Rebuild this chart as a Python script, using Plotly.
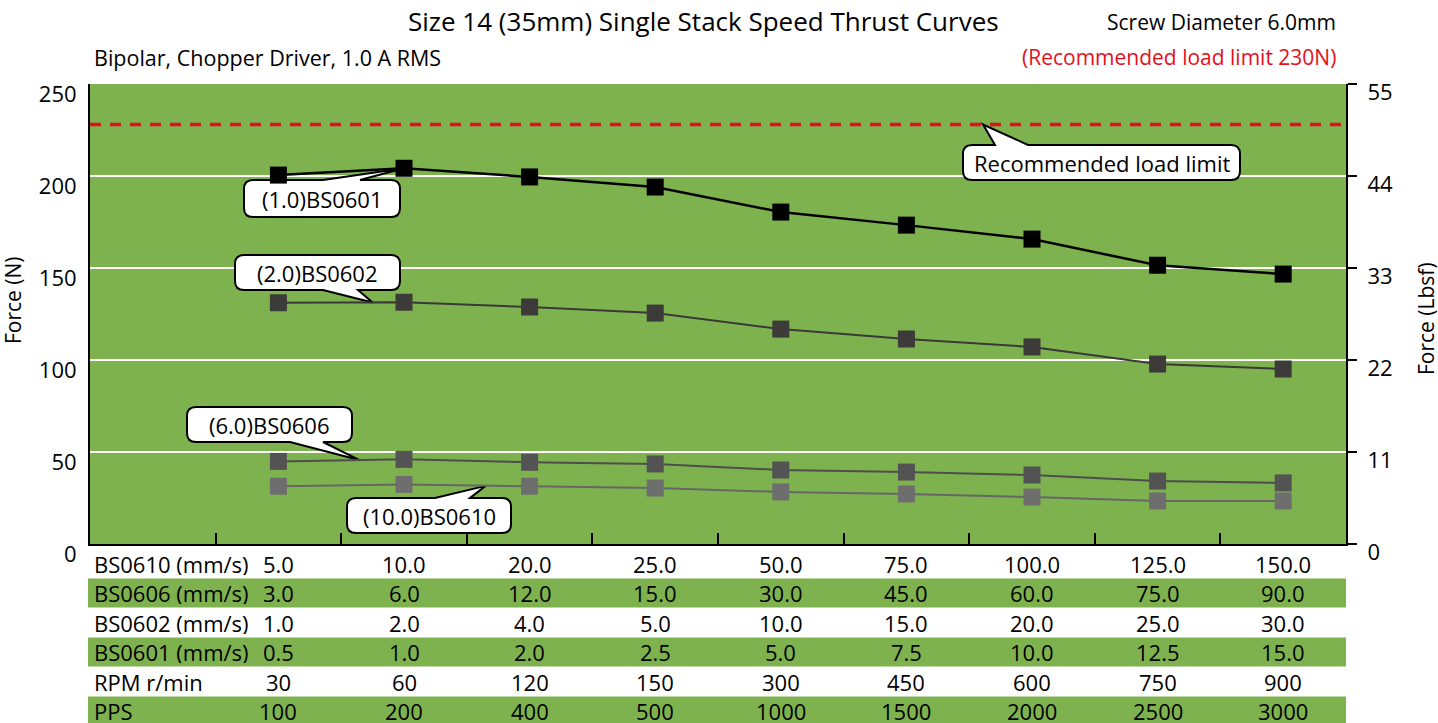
import plotly.graph_objects as go

# ---------------- data ----------------
row_labels = ["BS0610 (mm/s)", "BS0606 (mm/s)", "BS0602 (mm/s)", "BS0601 (mm/s)", "RPM r/min", "PPS"]
bs0610_speed = ["5.0", "10.0", "20.0", "25.0", "50.0", "75.0", "100.0", "125.0", "150.0"]
bs0606_speed = ["3.0", "6.0", "12.0", "15.0", "30.0", "45.0", "60.0", "75.0", "90.0"]
bs0602_speed = ["1.0", "2.0", "4.0", "5.0", "10.0", "15.0", "20.0", "25.0", "30.0"]
bs0601_speed = ["0.5", "1.0", "2.0", "2.5", "5.0", "7.5", "10.0", "12.5", "15.0"]
rpm = ["30", "60", "120", "150", "300", "450", "600", "750", "900"]
pps = ["100", "200", "400", "500", "1000", "1500", "2000", "2500", "3000"]

force_bs0601 = [200.5, 204.2, 199.5, 194.0, 180.4, 173.3, 165.7, 151.5, 146.7]
force_bs0602 = [131.1, 131.4, 128.8, 125.5, 116.8, 111.4, 107.1, 97.8, 95.1]
force_bs0606 = [44.9, 46.0, 44.4, 43.5, 40.2, 39.1, 37.5, 34.2, 33.2]
force_bs0610 = [31.4, 32.4, 31.4, 30.4, 28.3, 27.2, 25.5, 23.4, 23.4]
load_limit = 228

series_names = ["BS0601", "BS0602", "BS0606", "BS0610"]
callout_labels = ["(1.0)BS0601", "(2.0)BS0602", "(6.0)BS0606", "(10.0)BS0610"]
left_ticks = [0, 50, 100, 150, 200, 250]
right_ticks = [0, 11, 22, 33, 44, 55]

# ---------------- layout geometry ----------------
W, H = 1438, 723
L, R, T, B = 90, 1346, 84, 544
NSLOT = 10
FONT = "Open Sans"
FS = 22

def dx(px):
    return (px - L) / (R - L) * NSLOT

def dy(py):
    return (B - py) / (B - T) * 250

def pxx(x):
    return L + x / NSLOT * (R - L)

def pyy(y):
    return B - y / 250 * (B - T)

def xp(px):
    return (px - L) / (R - L)

def yp(py):
    return (B - py) / (B - T)

xs = [i + 1.5 for i in range(len(pps))]

fig = go.Figure()

styles = [
    dict(line=dict(color="#000000", width=2.5), marker=dict(color="#000000")),
    dict(line=dict(color="#3a3838", width=2), marker=dict(color="#3d3a3a")),
    dict(line=dict(color="#4e4e4e", width=2), marker=dict(color="#535353")),
    dict(line=dict(color="#666666", width=2), marker=dict(color="#6e6e6e")),
]
for name, vals, st in zip(series_names, [force_bs0601, force_bs0602, force_bs0606, force_bs0610], styles):
    fig.add_trace(go.Scatter(
        x=xs, y=vals, mode="lines+markers", name=name,
        line=st["line"],
        marker=dict(symbol="square", size=17, color=st["marker"]["color"], line=dict(width=0)),
        showlegend=False, cliponaxis=False,
    ))

# invisible trace to carry the secondary axis
fig.add_trace(go.Scatter(x=[None], y=[None], yaxis="y2", showlegend=False))

shapes = []
annotations = []

# recommended load limit line
shapes.append(dict(type="line", xref="x", yref="y", x0=0, x1=NSLOT, y0=load_limit, y1=load_limit,
                   line=dict(color="#e3101c", width=3.5, dash="11px,9px"), layer="between"))

# callouts
def callout(box, tip, base, side, r=9):
    x0, y0, x1, y1 = box
    tx, ty = pxx(tip[0]), pyy(tip[1])
    b0, b1 = base
    pts = []
    pts.append(("M", (x0 + r, y0)))
    if side == "top":
        pts += [("L", (b0, y0)), ("L", (tx, ty)), ("L", (b1, y0))]
    pts.append(("L", (x1 - r, y0)))
    pts.append(("Q", (x1, y0), (x1, y0 + r)))
    pts.append(("L", (x1, y1 - r)))
    pts.append(("Q", (x1, y1), (x1 - r, y1)))
    if side == "bottom":
        pts += [("L", (b1, y1)), ("L", (tx, ty)), ("L", (b0, y1))]
    pts.append(("L", (x0 + r, y1)))
    pts.append(("Q", (x0, y1), (x0, y1 - r)))
    pts.append(("L", (x0, y0 + r)))
    pts.append(("Q", (x0, y0), (x0 + r, y0)))
    s = ""
    for p in pts:
        cmd = p[0]
        coords = " ".join(f"{dx(a):.5f},{dy(b):.5f}" for a, b in p[1:])
        s += f"{cmd} {coords} "
    s += "Z"
    return dict(type="path", xref="x", yref="y", path=s, fillcolor="white",
                line=dict(color="black", width=2), layer="between")

callout_specs = [
    (callout_labels[0], (244, 180, 400, 217), (xs[1], force_bs0601[1]), (323, 360), "top"),
    (callout_labels[1], (235, 255, 400, 290), (2.25, 131.2), (323, 358), "bottom"),
    (callout_labels[2], (187, 407, 352, 442), (2.15, 45.5), (290, 323), "bottom"),
    (callout_labels[3], (347, 498, 511, 533), (3.15, 31.6), (435, 470), "top"),
    ("Recommended load limit", (963, 145, 1240, 180), (7.11, load_limit), (995, 1028), "top"),
]
for text, box, tip, base, side in callout_specs:
    shapes.append(callout(box, tip, base, side))
    cx = (box[0] + box[2]) / 2
    cy = (box[1] + box[3]) / 2
    annotations.append(dict(text=text, xref="x", yref="y", x=dx(cx), y=dy(cy), showarrow=False,
                            xanchor="center", yanchor="middle", font=dict(family=FONT, size=FS, color="black")))

# table
row_vals = [bs0610_speed, bs0606_speed, bs0602_speed, bs0601_speed, rpm, pps]
row_centers = [563.5, 593, 622.5, 652, 681.5, 711]
for k, (lab, vals, cy) in enumerate(zip(row_labels, row_vals, row_centers)):
    if k % 2 == 1:
        shapes.append(dict(type="rect", xref="paper", yref="paper", x0=xp(88), x1=xp(1346),
                           y0=yp(cy + 14.5), y1=yp(cy - 14.5), fillcolor="#7eb24f",
                           line=dict(width=0), layer="below"))
    annotations.append(dict(text=lab, xref="paper", yref="paper", x=xp(93), y=yp(cy), showarrow=False,
                            xanchor="left", yanchor="middle", height=22, borderpad=0,
                            font=dict(family=FONT, size=FS, color="black")))
    for x, v in zip(xs, vals):
        annotations.append(dict(text=v, xref="x", yref="paper", x=x, y=yp(cy), showarrow=False,
                                xanchor="center", yanchor="middle", height=22, borderpad=0,
                                font=dict(family=FONT, size=FS, color="black")))

# titles
annotations += [
    dict(text="Size 14 (35mm) Single Stack Speed Thrust Curves", xref="paper", yref="paper",
         x=xp(703), y=yp(21), showarrow=False, xanchor="center", yanchor="middle",
         font=dict(family=FONT, size=26, color="black")),
    dict(text="Screw Diameter 6.0mm", xref="paper", yref="paper", x=xp(1338), y=yp(22), showarrow=False,
         xanchor="right", yanchor="middle", font=dict(family=FONT, size=21, color="black")),
    dict(text="Bipolar, Chopper Driver, 1.0 A RMS", xref="paper", yref="paper", x=xp(92), y=yp(57),
         showarrow=False, xanchor="left", yanchor="middle", font=dict(family=FONT, size=21.5, color="black")),
    dict(text="(Recommended load limit 230N)", xref="paper", yref="paper", x=xp(1338), y=yp(57),
         showarrow=False, xanchor="right", yanchor="middle", font=dict(family=FONT, size=21, color="#e3101c")),
    dict(text="Force (N)", xref="paper", yref="paper", x=xp(13), y=yp(300), showarrow=False,
         textangle=-90, xanchor="center", yanchor="middle", font=dict(family=FONT, size=21, color="black")),
    dict(text="Force (Lbsf)", xref="paper", yref="paper", x=xp(1426), y=yp(319), showarrow=False,
         textangle=-90, xanchor="center", yanchor="middle", font=dict(family=FONT, size=21, color="black")),
]

fig.update_layout(
    width=W, height=H, autosize=False,
    margin=dict(l=L, r=W - R, t=T, b=H - B, pad=0),
    paper_bgcolor="white", plot_bgcolor="#7eb24f",
    font=dict(family=FONT, size=FS, color="black"),
    showlegend=False,
    xaxis=dict(range=[0, NSLOT], showgrid=False, zeroline=False, showline=True, linecolor="black",
               linewidth=2, ticks="inside", tickvals=list(range(1, NSLOT)), ticklen=11, tickwidth=2,
               tickcolor="black", showticklabels=False, fixedrange=True),
    yaxis=dict(range=[0, 250], tickvals=left_ticks, showgrid=True, gridcolor="white", gridwidth=2,
               zeroline=False, showline=True, linecolor="black", linewidth=2, ticks="",
               ticklabelstandoff=7, ticklabelshift=10, tickfont=dict(family=FONT, size=FS)),
    yaxis2=dict(range=[0, 55], tickvals=right_ticks, overlaying="y", side="right", showgrid=False,
                zeroline=False, showline=True, linecolor="black", linewidth=2, ticks="outside",
                ticklen=9, tickwidth=2, tickcolor="black", ticklabelstandoff=6, ticklabelshift=8,
                tickfont=dict(family=FONT, size=FS)),
    shapes=shapes, annotations=annotations,
)

fig.write_html("out.html", config={"displayModeBar": False},
               post_script="document.body.style.margin='0';document.body.style.overflow='hidden';")
